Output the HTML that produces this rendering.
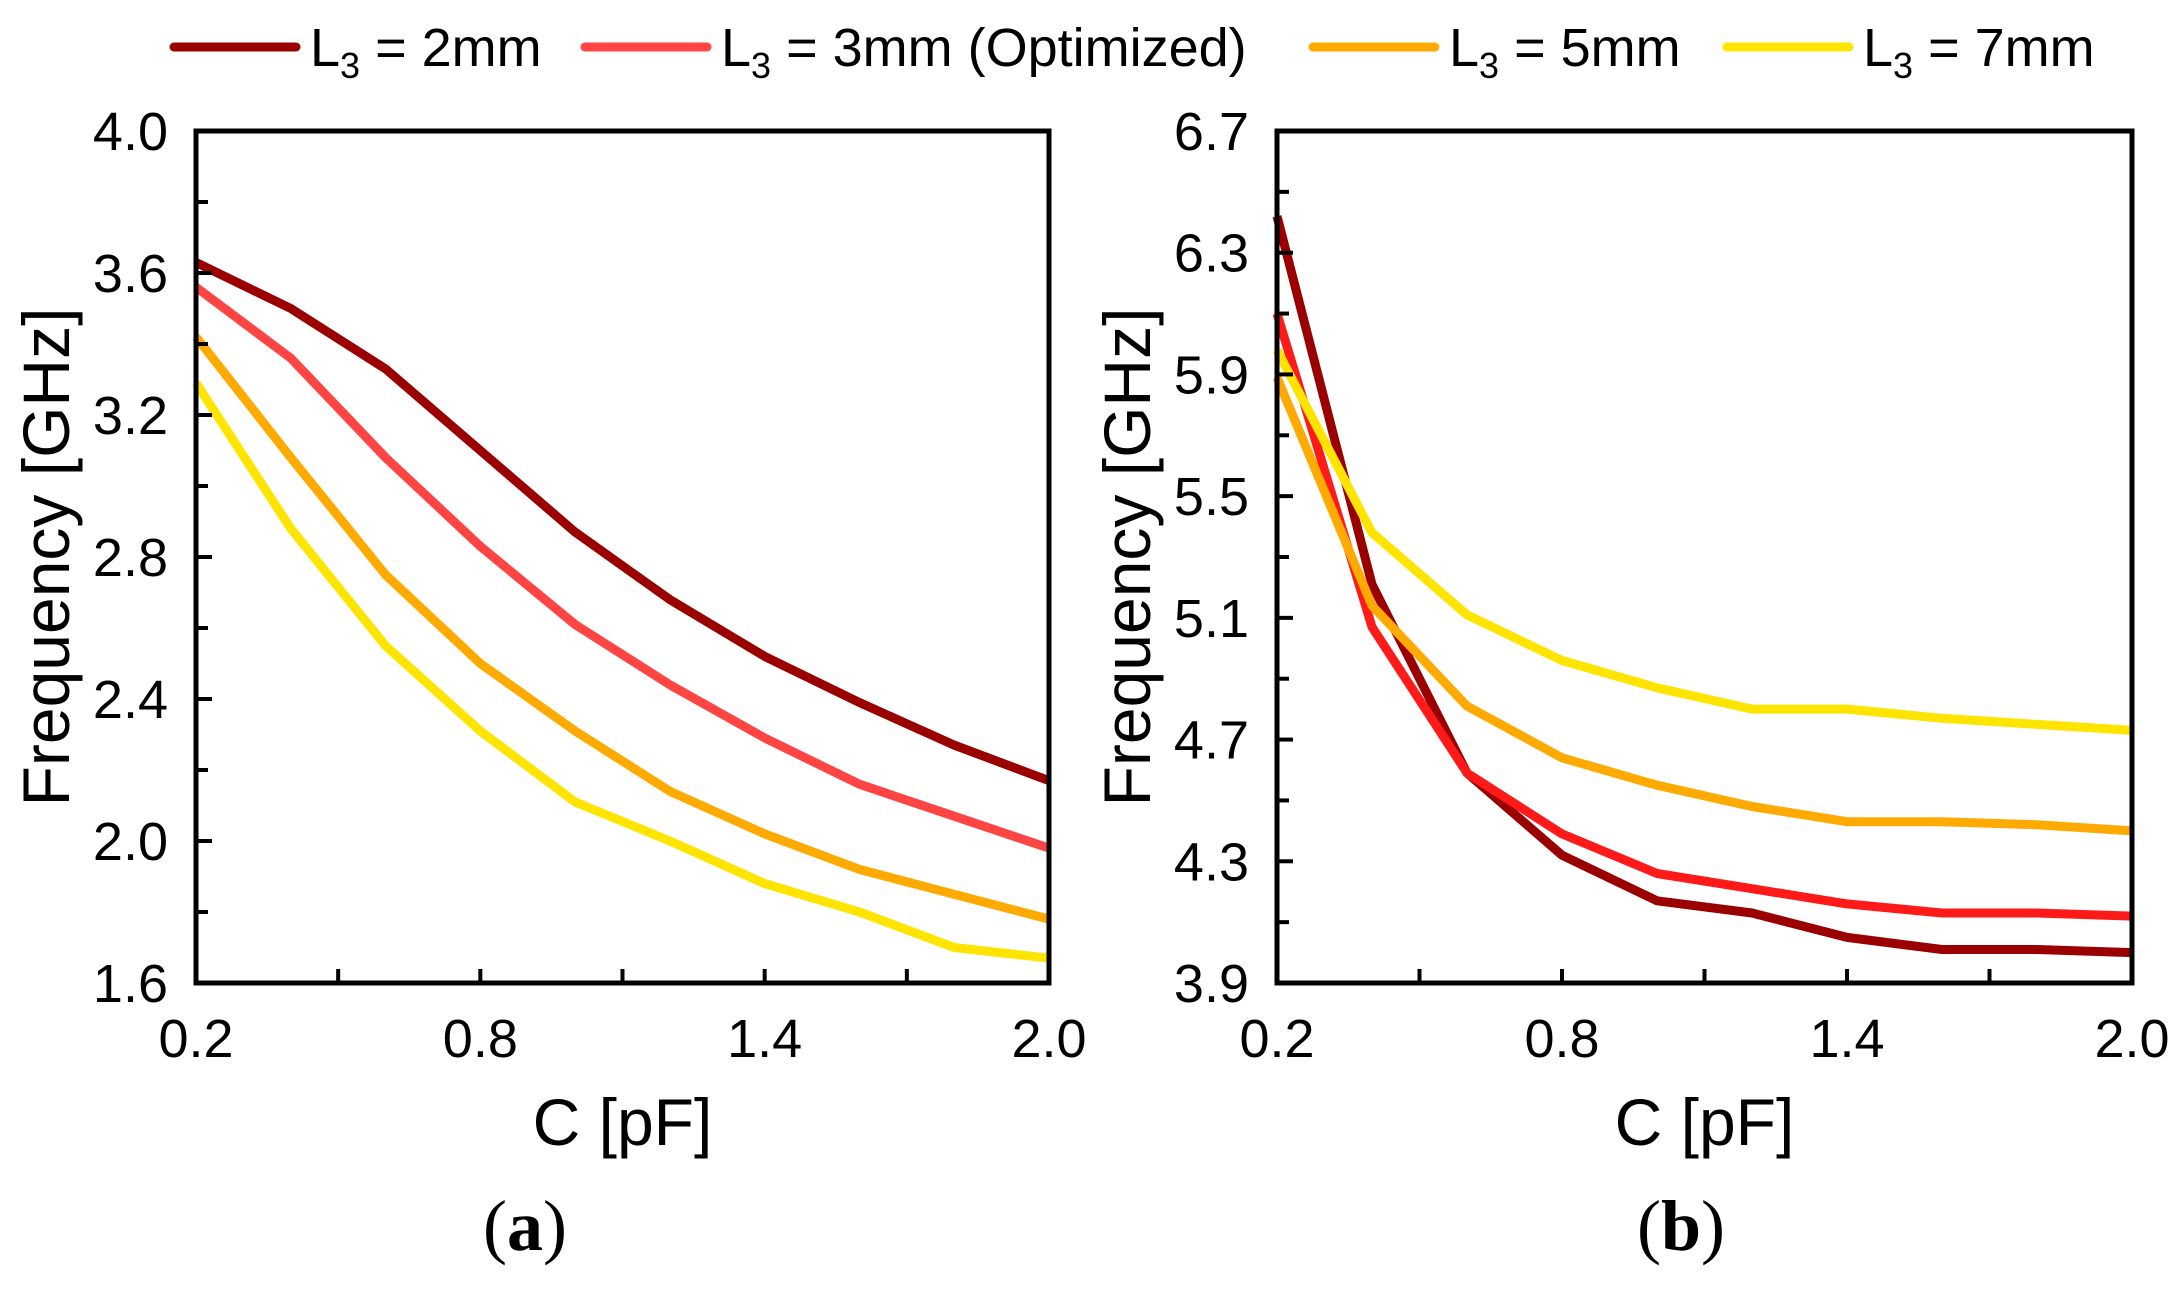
<!DOCTYPE html>
<html><head><meta charset="utf-8"><style>
body{margin:0;background:#fff;}
svg{display:block;font-family:"Liberation Sans",sans-serif;}
</style></head><body>
<svg id="root" width="2184" height="1306" viewBox="0 0 2184 1306" xmlns="http://www.w3.org/2000/svg"></svg>
<script>
const xValues=[0.2,0.4,0.6,0.8,1.0,1.2,1.4,1.6,1.8,2.0];
const seriesNames=["L3 = 2mm","L3 = 3mm (Optimized)","L3 = 5mm","L3 = 7mm"];
const aL2=[3.63,3.50,3.33,3.10,2.87,2.68,2.52,2.39,2.27,2.17];
const aL3=[3.56,3.36,3.08,2.83,2.61,2.44,2.29,2.16,2.07,1.98];
const aL5=[3.42,3.08,2.75,2.50,2.31,2.14,2.02,1.92,1.85,1.78];
const aL7=[3.29,2.88,2.55,2.31,2.11,2.00,1.88,1.80,1.70,1.67];
const bL2=[6.42,5.21,4.59,4.32,4.17,4.13,4.05,4.01,4.01,4.00];
const bL3=[6.10,5.07,4.59,4.39,4.26,4.21,4.16,4.13,4.13,4.12];
const bL5=[5.89,5.14,4.81,4.64,4.55,4.48,4.43,4.43,4.42,4.40];
const bL7=[5.98,5.38,5.11,4.96,4.87,4.80,4.80,4.77,4.75,4.73];
const xTicks=[0.2,0.8,1.4,2.0];
const aYTicks=[1.6,2.0,2.4,2.8,3.2,3.6,4.0];
const bYTicks=[3.9,4.3,4.7,5.1,5.5,5.9,6.3,6.7];

const NS="http://www.w3.org/2000/svg";
const root=document.getElementById('root');
function mk(tag,attrs,parent){const e=document.createElementNS(NS,tag);for(const k in attrs)e.setAttribute(k,attrs[k]);(parent||root).appendChild(e);return e;}

// legend
const legColors=["#9b0000","#ff4444","#ffaa00","#ffe400"];
const legX=[174,585,1313,1727];
const legTexts=["2mm","3mm (Optimized)","5mm","7mm"];
for(let i=0;i<4;i++){
  const g=mk('g',{});
  
  
  mk('line',{x1:legX[i],x2:legX[i]+122,y1:47,y2:47,stroke:legColors[i],'stroke-width':9,'stroke-linecap':'round'},g);
  const t=mk('text',{x:legX[i]+136,y:66,'font-size':54,fill:'#000'},g);
  t.innerHTML='L<tspan font-size="36" dy="12">3</tspan><tspan dy="-12"> = '+legTexts[i]+'</tspan>';
}

function panel(name,x0,x1,y0,y1,ymin,ymax,yTicks,series,colors,cap,capX){
  const g=mk('g',{});
  
  
  const sx=v=>x0+(v-0.2)/(1.8)*(x1-x0);
  const sy=v=>y1-(v-ymin)/(ymax-ymin)*(y1-y0);
  series.forEach((s,i)=>{
    const p=mk('polyline',{points:s.map((v,j)=>sx(xValues[j]).toFixed(1)+','+sy(v).toFixed(1)).join(' '),fill:'none',stroke:colors[i],'stroke-width':9,'stroke-linejoin':'round'},g);
    
    
  });
  const fr=mk('rect',{x:x0,y:y0,width:x1-x0,height:y1-y0,fill:'none',stroke:'#000','stroke-width':5},g);
  
  
  for(let v=ymin;v<=ymax+1e-6;v+=0.2){
    const major=yTicks.some(t=>Math.abs(t-v)<1e-6);
    mk('line',{x1:x0,x2:x0+(major?16:12),y1:sy(v),y2:sy(v),stroke:'#000','stroke-width':4},g);
  }
  yTicks.forEach(v=>{
    const t=mk('text',{x:x0-28,y:sy(v)+19,'font-size':54,'text-anchor':'end'},g);
    t.textContent=v.toFixed(1);
    
    
  });
  for(let v=0.2;v<=2.0+1e-6;v+=0.3){
    mk('line',{x1:sx(v),x2:sx(v),y1:y1,y2:y1-14,stroke:'#000','stroke-width':4},g);
  }
  xTicks.forEach(v=>{
    const t=mk('text',{x:sx(v),y:y1+74,'font-size':54,'text-anchor':'middle'},g);
    t.textContent=v.toFixed(1);
    
    
  });
  const yt=mk('text',{x:0,y:0,'font-size':66,'text-anchor':'middle',transform:`translate(${x0-127},${(y0+y1)/2}) rotate(-90)`},g);
  yt.textContent='Frequency [GHz]';
  
  
  const xt=mk('text',{x:(x0+x1)/2,y:y1+162,'font-size':66,'text-anchor':'middle'},g);
  xt.textContent='C [pF]';
  
  
  const c=mk('text',{x:capX,y:1250,'font-size':72,'text-anchor':'middle','font-family':'Liberation Serif, serif'},g);
  c.innerHTML='(<tspan font-weight="bold">'+cap+'</tspan>)';
  
  
}
panel('a',196,1049,131,983,1.6,4.0,aYTicks,[aL2,aL3,aL5,aL7],["#9b0000","#ff4444","#ffaa00","#ffe400"],'a',525);
panel('b',1277,2132,131,983,3.9,6.7,bYTicks,[bL2,bL3,bL5,bL7],["#9b0000","#ff1a1a","#ffaa00","#ffe400"],'b',1681);
</script>
</body></html>
